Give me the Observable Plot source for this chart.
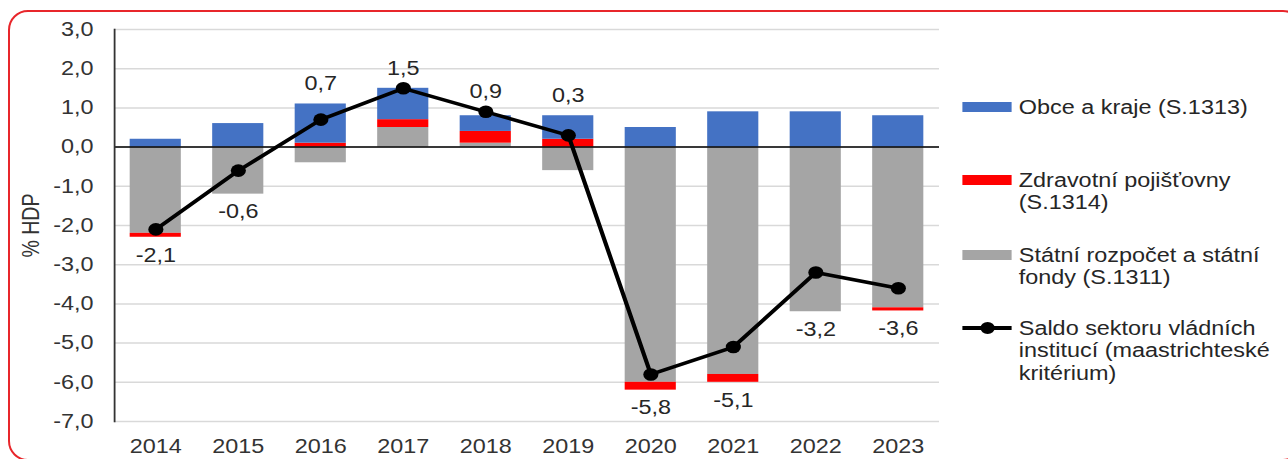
<!DOCTYPE html>
<html>
<head>
<meta charset="utf-8">
<script src="https://cdn.jsdelivr.net/npm/d3@7"></script>
<script src="https://cdn.jsdelivr.net/npm/@observablehq/plot@0.6"></script>
<style>
  html, body { margin: 0; padding: 0; background: #fff; overflow: hidden; }
  #page { position: relative; width: 1288px; height: 459px; overflow: hidden; font-family: "Liberation Sans", Arial, sans-serif; color: #333; }
  #border { position: absolute; left: 8px; top: 10px; width: 1295px; height: 451px; border: 2px solid #e8262b; border-radius: 20px; box-sizing: border-box; }
  #stretch { position: absolute; left: 0; top: 0; width: 1074px; height: 459px; transform: scaleX(1.2); transform-origin: 0 0; }
  #chart { position: absolute; left: 0; top: 0; }
  .legtext { position: absolute; left: 849px; font-size: 19.5px; line-height: 22.5px; white-space: nowrap; color: #262626; }
  .legsw { position: absolute; left: 801.7px; width: 41.7px; }
</style>
</head>
<body>
<div id="page">
  <div id="border"></div>
  <div id="stretch">
    <div id="chart"></div>
    <div id="legend"></div>
  </div>
</div>
<script>
// ---- data ----
const years = ["2014", "2015", "2016", "2017", "2018", "2019", "2020", "2021", "2022", "2023"];
const obceKraje = [0.2, 0.6, 1.0, 0.8, 0.4, 0.6, 0.5, 0.9, 0.9, 0.8];          // S.1313
const zdravotniPojistovny = [-0.1, 0.0, 0.1, 0.2, 0.3, 0.2, -0.2, -0.2, 0.0, -0.08]; // S.1314
const statniRozpocet = [-2.2, -1.2, -0.4, 0.5, 0.1, -0.6, -6.0, -5.8, -4.2, -4.1];  // S.1311
const saldo = [-2.1, -0.6, 0.7, 1.5, 0.9, 0.3, -5.8, -5.1, -3.2, -3.6];
const yTicks = [-7, -6, -5, -4, -3, -2, -1, 0, 1, 2, 3];
const seriesNames = ["Státní rozpočet a státní fondy (S.1311)", "Zdravotní pojišťovny (S.1314)", "Obce a kraje (S.1313)"];
const seriesColors = ["#a5a5a5", "#ff0000", "#4472c4"];
const legendLines = [
  ["Obce a kraje (S.1313)"],
  ["Zdravotní pojišťovny", "(S.1314)"],
  ["Státní rozpočet a státní", "fondy (S.1311)"],
  ["Saldo sektoru vládních", "institucí (maastrichteské", "kritérium)"]
];

const fmt = v => v.toFixed(1).replace(".", ",");

// build tables
const bars = [];
years.forEach((y, i) => {
  bars.push({year: y, series: seriesNames[0], value: statniRozpocet[i]});
  bars.push({year: y, series: seriesNames[1], value: zdravotniPojistovny[i]});
  bars.push({year: y, series: seriesNames[2], value: obceKraje[i]});
});
const points = years.map((y, i) => {
  const comps = [statniRozpocet[i], zdravotniPojistovny[i], obceKraje[i]];
  const pos = d3.sum(comps.filter(v => v > 0));
  const neg = d3.sum(comps.filter(v => v < 0));
  return {year: y, v: saldo[i], top: Math.max(pos, saldo[i]), bot: Math.min(neg, saldo[i])};
});

const FS = 19.5;
const chart = Plot.plot({
  width: 800,
  height: 459,
  marginLeft: 95,
  marginRight: 17.5,
  marginTop: 29,
  marginBottom: 38,
  style: {fontFamily: '"Liberation Sans", Arial, sans-serif', fontSize: FS + "px", color: "#333", background: "transparent"},
  x: {domain: years, paddingInner: 0.38, paddingOuter: 0.19, round: false, label: null},
  y: {domain: [-7, 3], label: null},
  color: {domain: seriesNames, range: seriesColors},
  marks: [
    Plot.gridY(yTicks, {stroke: "#d9d9d9", strokeOpacity: 1, strokeWidth: 1.5}),
    Plot.barY(bars, {x: "year", y: "value", fill: "series"}),
    Plot.ruleY([0], {stroke: "#000", strokeWidth: 1.5}),
    Plot.frame({anchor: "left", stroke: "#333", strokeWidth: 1.5}),
    Plot.axisY({ticks: yTicks, tickFormat: fmt, tickSize: 0, tickPadding: 17.5, fontSize: FS,
      label: "% HDP", labelAnchor: "center", labelArrow: "none", labelOffset: 77}),
    Plot.axisX({tickSize: 0, tickPadding: 18, fontSize: FS, label: null}),
    Plot.line(points, {x: "year", y: "v", stroke: "#000", strokeWidth: 3.5}),
    Plot.dot(points, {x: "year", y: "v", r: 6.3, fill: "#000"}),
    Plot.text(points.filter(d => d.v > 0), {x: "year", y: "top", text: d => fmt(d.v), dy: -20, fontSize: FS, fill: "#262626"}),
    Plot.text(points.filter(d => d.v < 0), {x: "year", y: "bot", text: d => fmt(d.v), dy: 18, fontSize: FS, fill: "#262626"})
  ]
});
document.getElementById("chart").appendChild(chart);

// legend
const legend = document.getElementById("legend");
const rowCenters = [107, 180, 255, 328];
const kinds = [{fill: seriesColors[2]}, {fill: seriesColors[1]}, {fill: seriesColors[0]}, {line: true}];
legendLines.forEach((lines, i) => {
  const c = rowCenters[i];
  const t = document.createElement("div");
  t.className = "legtext";
  t.style.top = (c - 11.25) + "px";
  t.innerHTML = lines.join("<br>");
  legend.appendChild(t);
  const k = kinds[i];
  if (k.fill) {
    const s = document.createElement("div");
    s.className = "legsw";
    s.style.top = (c - 5) + "px";
    s.style.height = "10px";
    s.style.background = k.fill;
    legend.appendChild(s);
  } else {
    const s = document.createElement("div");
    s.className = "legsw";
    s.style.top = (c - 2) + "px";
    s.style.height = "4px";
    s.style.background = "#000";
    legend.appendChild(s);
    const d = document.createElement("div");
    d.style.position = "absolute";
    d.style.left = (801.7 + 41.7 / 2 - 6) + "px";
    d.style.top = (c - 6) + "px";
    d.style.width = "12px";
    d.style.height = "12px";
    d.style.borderRadius = "50%";
    d.style.background = "#000";
    legend.appendChild(d);
  }
});
</script>
</body>
</html>
